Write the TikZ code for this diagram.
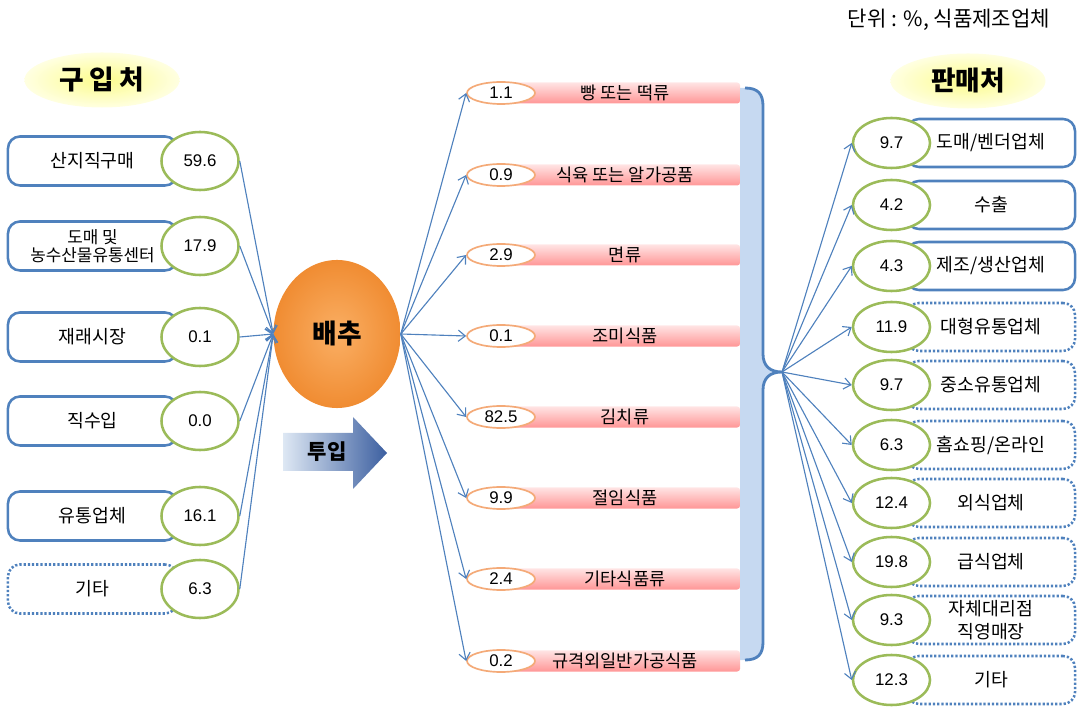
\documentclass[tikz,border=0pt]{standalone}
\usepackage{fontspec}
\setmainfont{Noto Sans CJK KR}
\newfontfamily\numf{Liberation Sans}
\usetikzlibrary{shapes.geometric,arrows.meta}
\definecolor{bl}{RGB}{79,129,189}
\definecolor{gr}{RGB}{155,187,89}
\definecolor{orl}{RGB}{244,170,120}
\definecolor{pkt}{RGB}{255,228,228}
\definecolor{pkb}{RGB}{255,150,150}
\definecolor{brf}{RGB}{198,217,241}
\begin{document}
\begin{tikzpicture}[x=0.025cm,y={(0cm,-0.025cm)},
  lbox/.style={draw=bl,line width=1.8pt,rounded corners=0.3cm,minimum width=4.225cm,minimum height=1.225cm,align=center,inner sep=0pt,font=\fontsize{13}{15}\selectfont},
  dbox/.style={lbox,dash pattern=on 1.6pt off 1.4pt},
  rbox/.style={lbox,minimum width=4.2cm,minimum height=1.2cm},
  rdbox/.style={rbox,dash pattern=on 1.6pt off 1.4pt},
  gell/.style={ellipse,draw=gr,fill=white,line width=1.8pt,minimum width=1.925cm,minimum height=1.45cm,inner sep=0pt,font=\numf\fontsize{12}{14}\selectfont},
  rgell/.style={gell,minimum height=1.25cm},
  oell/.style={ellipse,draw=orl,fill=white,line width=1.2pt,minimum width=1.7cm,minimum height=0.55cm,inner sep=0pt,font=\numf\fontsize{12}{14}\selectfont},
  pbar/.style={rectangle,rounded corners=2pt,top color=pkt,bottom color=pkb,minimum width=5.75cm,minimum height=0.525cm,inner sep=0pt,font=\fontsize{12.5}{14}\selectfont},
  ytitle/.style={ellipse,shading=radial,inner color={rgb,255:red,252;green,252;blue,140},outer color={rgb,255:red,255;green,255;blue,225},minimum width=3.875cm,minimum height=1.375cm,inner sep=0pt,font=\bfseries\fontsize{19}{21}\selectfont},
  arr/.style={draw=bl,line width=0.8pt,-{Straight Barb[length=5pt,width=8pt]}}
]
\useasboundingbox (0,0) rectangle (1078,707);

% unit
\node[font=\fontsize{15}{17}\selectfont] (unit) at (949,20) {단위 : \%, 식품제조업체};

% titles
\node[ytitle] (t1) at (102,80) {구\hspace{4pt}입\hspace{4pt}처};
\node[ytitle] (t2) at (968,81) {판매처};

% left side
\node[lbox] (lb1) at (92.5,161) {산지직구매};
\node[lbox,font=\fontsize{12}{13}\selectfont] (lb2) at (92.5,246) {도매 및\\농수산물유통센터};
\node[lbox] (lb3) at (92.5,337) {재래시장};
\node[lbox] (lb4) at (92.5,421) {직수입};
\node[lbox] (lb5) at (92.5,516) {유통업체};
\node[dbox] (lb6) at (92.5,589) {기타};
\node[gell] (le1) at (200,161) {59.6};
\node[gell] (le2) at (200,246) {17.9};
\node[gell] (le3) at (200,337) {0.1};
\node[gell] (le4) at (200,421) {0.0};
\node[gell] (le5) at (200,516) {16.1};
\node[gell] (le6) at (200,589) {6.3};

% center
\node[ellipse,shading=radial,inner color={rgb,255:red,250;green,175;blue,100},outer color={rgb,255:red,240;green,140;blue,50},minimum width=3.175cm,minimum height=3.7cm,inner sep=0pt,font=\bfseries\fontsize{19}{21}\selectfont] (cab) at (337,334) {배추};

\foreach \i in {1,...,6} \draw[arr] (le\i.east) -- (cab.west);

% input arrow
\path[left color={rgb,255:red,222;green,232;blue,244},right color={rgb,255:red,60;green,95;blue,160}]
  (283,433) -- (353,433) -- (353,417) -- (387,453) -- (353,489) -- (353,471) -- (283,471) -- cycle;
\node[font=\bfseries\fontsize{15}{17}\selectfont] (tu) at (327,452) {투입};

% middle
\node[pbar] (pb1) at (625,93) {빵 또는 떡류};
\node[pbar] (pb2) at (625,175) {식육 또는 알가공품};
\node[pbar] (pb3) at (625,255) {면류};
\node[pbar] (pb4) at (625,336) {조미식품};
\node[pbar] (pb5) at (625,417) {김치류};
\node[pbar] (pb6) at (625,498) {절임식품};
\node[pbar] (pb7) at (625,579) {기타식품류};
\node[pbar] (pb8) at (625,661) {규격외일반가공식품};
\node[oell] (me1) at (501,93) {1.1};
\node[oell] (me2) at (501,175) {0.9};
\node[oell] (me3) at (501,255) {2.9};
\node[oell] (me4) at (501,336) {0.1};
\node[oell] (me5) at (501,417) {82.5};
\node[oell] (me6) at (501,498) {9.9};
\node[oell] (me7) at (501,579) {2.4};
\node[oell] (me8) at (501,661) {0.2};
\foreach \i in {1,...,8} \draw[arr] (cab.east) -- (me\i.west);

% brace
\fill[brf] (740,88) -- (745,88) .. controls (758,88) and (763,94) .. (763,106) -- (763,354)
  .. controls (763,366) and (770,372) .. (782,372) .. controls (770,372) and (763,378) .. (763,390)
  -- (763,642) .. controls (763,654) and (758,660) .. (745,660) -- (740,660) -- cycle;
\draw[bl,line width=2pt] (745,88) .. controls (758,88) and (763,94) .. (763,106) -- (763,354)
  .. controls (763,366) and (770,372) .. (782,372) .. controls (770,372) and (763,378) .. (763,390)
  -- (763,642) .. controls (763,654) and (758,660) .. (745,660);
\coordinate (bt) at (782,372);

% right side
\node[rbox] (rb1) at (991,143) {도매/벤더업체};
\node[rbox] (rb2) at (991,205) {수출};
\node[rbox] (rb3) at (991,266) {제조/생산업체};
\node[rdbox] (rb4) at (991,327) {대형유통업체};
\node[rdbox] (rb5) at (991,385) {중소유통업체};
\node[rdbox] (rb6) at (991,445) {홈쇼핑/온라인};
\node[rdbox] (rb7) at (991,503) {외식업체};
\node[rdbox] (rb8) at (991,562) {급식업체};
\node[rdbox,font=\fontsize{13}{16}\selectfont] (rb9) at (991,620) {자체대리점\\직영매장};
\node[rdbox] (rb10) at (991,680) {기타};
\node[rgell] (re1) at (891.5,143) {9.7};
\node[rgell] (re2) at (891.5,205) {4.2};
\node[rgell] (re3) at (891.5,266) {4.3};
\node[rgell] (re4) at (891.5,327) {11.9};
\node[rgell] (re5) at (891.5,385) {9.7};
\node[rgell] (re6) at (891.5,445) {6.3};
\node[rgell] (re7) at (891.5,503) {12.4};
\node[rgell] (re8) at (891.5,562) {19.8};
\node[rgell] (re9) at (891.5,620) {9.3};
\node[rgell] (re10) at (891.5,680) {12.3};
\foreach \i in {1,...,10} \draw[arr] (bt) -- (re\i.west);
\end{tikzpicture}
\end{document}
